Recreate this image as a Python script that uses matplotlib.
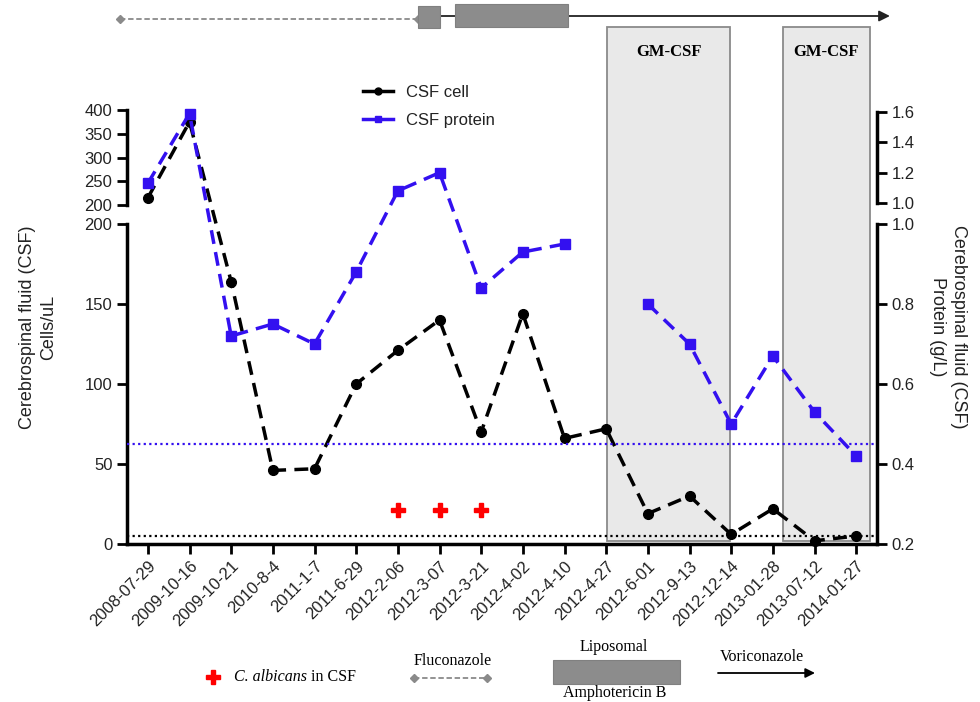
import numpy as np
import matplotlib.pyplot as plt
from matplotlib.lines import Line2D
from matplotlib.patches import Rectangle
import matplotlib.transforms as mtransforms

plt.rcParams['font.family'] = ['Liberation Sans', 'DejaVu Sans']
SERIF = ['Liberation Serif', 'DejaVu Serif']

# ---- data
dates = ["2008-07-29", "2009-10-16", "2009-10-21", "2010-8-4", "2011-1-7",
         "2011-6-29", "2012-2-06", "2012-3-07", "2012-3-21", "2012-4-02",
         "2012-4-10", "2012-4-27", "2012-6-01", "2012-9-13", "2012-12-14",
         "2013-01-28", "2013-07-12", "2014-01-27"]
csf_cell = [215, 375, 164, 46, 47, 100, 121, 140, 70, 144, 66, 72, 19, 30, 6, 22, 2, 5]
csf_protein = [1.13, 1.59, 0.72, 0.75, 0.70, 0.88, 1.08, 1.20, 0.84, 0.93, 0.95,
               np.nan, 0.80, 0.70, 0.50, 0.67, 0.53, 0.42]
albicans_idx = [6, 7, 8]
albicans_level = 21
cell_normal = 5
protein_normal = 0.45

# treatment periods, in x-index units
gmcsf_spans = [(11.03, 13.97), (15.24, 17.33)]
fluconazole_span = (-0.67, 6.48)
ampho_spans = [(6.48, 7.01), (7.37, 10.08)]
voriconazole_span = (7.01, 17.81)

BLUE = '#3310f0'
W, H = 980, 702
X0, X1 = 127, 877
LOW_BOT, LOW_TOP = 544, 224
UP_BOT, UP_TOP = 205, 110
R_UP_BOT, R_UP_TOP = 203, 112


def fax(left, top, right, bottom):
    return [left / W, 1 - bottom / H, (right - left) / W, (bottom - top) / H]


# broken-axis scales (display units in pixels above LOW_BOT)
def cell_fwd(v):
    v = np.asarray(v, dtype=float)
    return np.where(v <= 200, v * (LOW_BOT - LOW_TOP) / 200,
                    (LOW_BOT - UP_BOT) + (v - 200) * (UP_BOT - UP_TOP) / 200)


def cell_inv(u):
    u = np.asarray(u, dtype=float)
    return np.where(u <= LOW_BOT - LOW_TOP, u * 200 / (LOW_BOT - LOW_TOP),
                    200 + (u - (LOW_BOT - UP_BOT)) * 200 / (UP_BOT - UP_TOP))


def prot_fwd(v):
    v = np.asarray(v, dtype=float)
    return np.where(v <= 1.0, (v - 0.2) * (LOW_BOT - LOW_TOP) / 0.8,
                    (LOW_BOT - R_UP_BOT) + (v - 1.0) * (R_UP_BOT - R_UP_TOP) / 0.6)


def prot_inv(u):
    u = np.asarray(u, dtype=float)
    return np.where(u <= LOW_BOT - LOW_TOP, 0.2 + u * 0.8 / (LOW_BOT - LOW_TOP),
                    1.0 + (u - (LOW_BOT - R_UP_BOT)) * 0.6 / (R_UP_BOT - R_UP_TOP))


fig = plt.figure(figsize=(W / 100, H / 100), dpi=100)
x = np.arange(len(dates))

SPW = 2.5
TICK = dict(width=2, length=7, labelsize=12, direction='out', labelcolor='#222222')

# ---- axes that carry spines / ticks only
ax_low = fig.add_axes(fax(X0, LOW_TOP, X1, LOW_BOT), facecolor='none')
ax_low.set_xlim(-0.5, len(dates) - 0.5)
ax_low.set_ylim(0, 200)
ax_low.set_yticks([0, 50, 100, 150, 200])
ax_low.set_xticks(x)
ax_low.set_xticklabels(dates, rotation=45, ha='right', rotation_mode='anchor')
ax_low.tick_params(**TICK)
ax_low.spines['top'].set_visible(False)
ax_low.spines['right'].set_visible(False)
for s in ('left', 'bottom'):
    ax_low.spines[s].set_linewidth(SPW)

ax_low_r = ax_low.twinx()
ax_low_r.set_ylim(0.2, 1.0)
ax_low_r.set_yticks([0.2, 0.4, 0.6, 0.8, 1.0])
ax_low_r.set_yticklabels(['0.2', '0.4', '0.6', '0.8', '1.0'])
ax_low_r.tick_params(**TICK)
for s in ('top', 'left', 'bottom'):
    ax_low_r.spines[s].set_visible(False)
ax_low_r.spines['right'].set_linewidth(SPW)

ax_up = fig.add_axes(fax(X0, UP_TOP, X1, UP_BOT), facecolor='none')
ax_up.set_xlim(-0.5, len(dates) - 0.5)
ax_up.set_ylim(200, 400)
ax_up.set_yticks([200, 250, 300, 350, 400])
ax_up.set_xticks([])
ax_up.tick_params(**TICK)
for s in ('top', 'right', 'bottom'):
    ax_up.spines[s].set_visible(False)
ax_up.spines['left'].set_linewidth(SPW)

ax_up_r = fig.add_axes(fax(X0, R_UP_TOP, X1, R_UP_BOT), facecolor='none')
ax_up_r.set_ylim(1.0, 1.6)
ax_up_r.set_yticks([1.0, 1.2, 1.4, 1.6])
ax_up_r.set_yticklabels(['1.0', '1.2', '1.4', '1.6'])
ax_up_r.yaxis.tick_right()
ax_up_r.set_xticks([])
ax_up_r.tick_params(**TICK)
for s in ('top', 'left', 'bottom'):
    ax_up_r.spines[s].set_visible(False)
ax_up_r.spines['right'].set_linewidth(SPW)

# ---- data axes spanning the whole broken range
ax_d = fig.add_axes(fax(X0, UP_TOP, X1, LOW_BOT), facecolor='none')
ax_d.set_xlim(-0.5, len(dates) - 0.5)
ax_d.set_yscale('function', functions=(cell_fwd, cell_inv))
ax_d.set_ylim(0, 400)
ax_d.axis('off')

trans = mtransforms.blended_transform_factory(ax_d.transData, ax_d.transAxes)
for a, b in gmcsf_spans:
    ax_d.add_patch(Rectangle((a, 3 / 434), b - a, (LOW_BOT - 27 - 3) / 434,
                             transform=trans, facecolor='#e9e9e9',
                             edgecolor='#8a8a8a', lw=1.3, clip_on=False, zorder=0))
    ax_d.text((a + b) / 2, (LOW_BOT - 52) / 434, 'GM-CSF', transform=trans,
              ha='center', va='center', fontsize=12, fontweight='bold',
              family=SERIF)

ax_d.axhline(cell_normal, color='k', ls=(0, (1, 1.5)), lw=1.6, zorder=1)
ax_d.plot(x, csf_cell, color='k', ls=(0, (4, 2.4)), lw=2.5, marker='o',
          ms=7, clip_on=False, zorder=3)
ax_d.plot(albicans_idx, [albicans_level] * len(albicans_idx), ls='none',
          marker='P', ms=10, color='red', mec='red', zorder=3)

ax_d2 = ax_d.twinx()
ax_d2.set_yscale('function', functions=(prot_fwd, prot_inv))
ax_d2.set_ylim(0.2, float(prot_inv(LOW_BOT - UP_TOP)))
ax_d2.axis('off')
ax_d2.axhline(protein_normal, color=BLUE, ls=(0, (1, 1.5)), lw=1.6, zorder=1)
ax_d2.plot(x, csf_protein, color=BLUE, ls=(0, (4, 2.4)), lw=2.5, marker='s',
           ms=7, clip_on=False, zorder=3)

# ---- legend
handles = [Line2D([], [], color='k', lw=2.5, marker='o', ms=5),
           Line2D([], [], color=BLUE, lw=2.5, marker='s', ms=5)]
fig.legend(handles, ['CSF cell', 'CSF protein'], loc='upper left',
           bbox_to_anchor=(363 / W, 1 - 85 / H), frameon=False, fontsize=12,
           handlelength=1.8, handletextpad=0.75, labelspacing=0.78,
           borderaxespad=0, borderpad=0, labelcolor='#222222')

# ---- axis labels
fig.text(38 / W, 1 - 327 / H, 'Cerebrospinal fluid (CSF)\nCells/uL',
         rotation=90, ha='center', va='center', fontsize=13, color='#222222',
         multialignment='center', linespacing=1.25)
fig.text(948 / W, 1 - 327 / H, 'Cerebrospinal fluid (CSF)\nProtein (g/L)',
         rotation=270, ha='center', va='center', fontsize=13, color='#222222',
         multialignment='center', linespacing=1.25)

# ---- treatment timeline at top
ax_tl = fig.add_axes(fax(X0, 0, X1, 35), facecolor='none')
ax_tl.set_xlim(-0.5, len(dates) - 0.5)
ax_tl.set_ylim(35, 0)
ax_tl.axis('off')
ax_tl.plot(fluconazole_span, [19, 19], color='#8a8a8a', ls=(0, (3, 1.5)), lw=1.3,
           marker='D', ms=4, clip_on=False)
ax_tl.annotate('', xy=(voriconazole_span[1], 16), xytext=(voriconazole_span[0], 16),
               arrowprops=dict(arrowstyle='-|>', color='#222222', lw=1.3,
                               mutation_scale=16, shrinkA=0, shrinkB=0),
               annotation_clip=False)
for (a, b), (top, bot) in zip(ampho_spans, [(6, 28), (4, 27)]):
    ax_tl.add_patch(Rectangle((a, top), b - a, bot - top, facecolor='#8c8c8c',
                              edgecolor='#808080', lw=0.8, clip_on=False, zorder=3))

# ---- bottom key
ax_k = fig.add_axes([0, 0, 1, 1], facecolor='none')
ax_k.set_xlim(0, W)
ax_k.set_ylim(H, 0)
ax_k.axis('off')
ax_k.plot([213], [677], marker='P', ms=10, color='red', ls='none')
t1 = ax_k.text(234, 677, 'C. albicans', family=SERIF, style='italic',
               fontsize=11.5, ha='left', va='center')
ax_k.annotate(' in CSF', xy=(1, 0.5), xycoords=t1, ha='left', va='center',
              family=SERIF, fontsize=11.5)
ax_k.text(453, 661, 'Fluconazole', family=SERIF, fontsize=11.5, ha='center', va='center')
ax_k.plot([414, 487], [678, 678], color='#8a8a8a', ls=(0, (3, 1.5)), lw=1.3,
          marker='D', ms=4)
ax_k.add_patch(Rectangle((553, 660), 127, 24, facecolor='#8c8c8c', edgecolor='#808080', lw=0.8))
ax_k.text(614, 647, 'Liposomal', family=SERIF, fontsize=11.5, ha='center', va='center')
ax_k.text(615, 693, 'Amphotericin B', family=SERIF, fontsize=11.5, ha='center', va='center')
ax_k.annotate('', xy=(815, 673), xytext=(718, 673),
              arrowprops=dict(arrowstyle='-|>', color='k', lw=1.3,
                              mutation_scale=14, shrinkA=0, shrinkB=0))
ax_k.text(762, 657, 'Voriconazole', family=SERIF, fontsize=11.5, ha='center', va='center')

fig.savefig('out.png', dpi=100)
